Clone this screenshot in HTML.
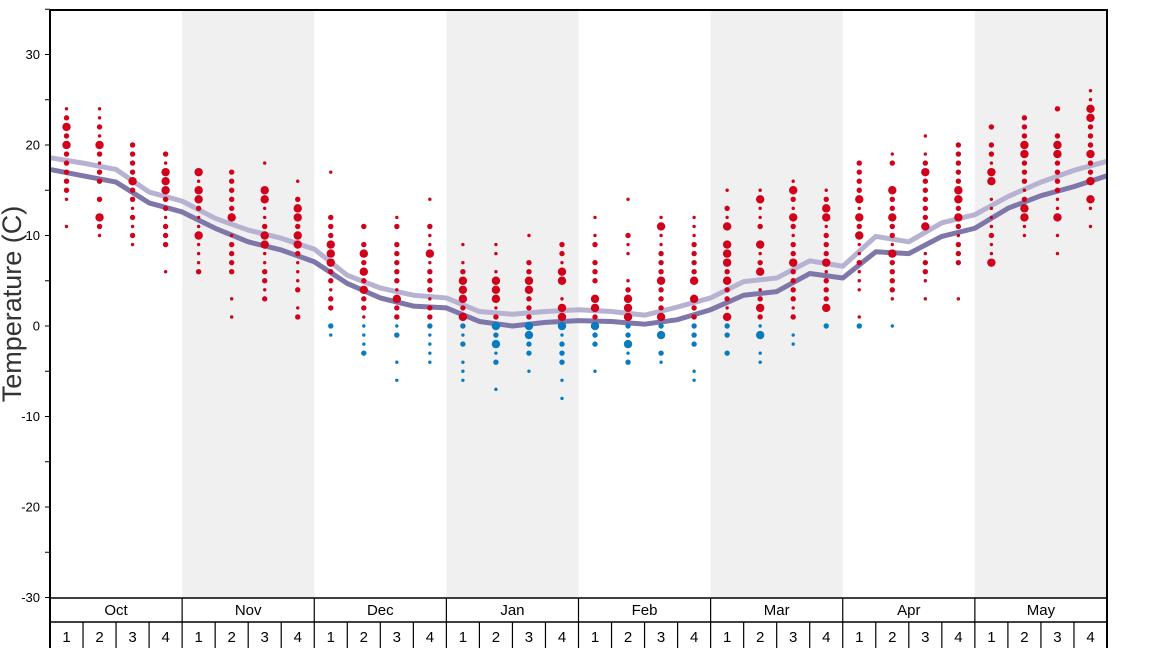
<!DOCTYPE html>
<html><head><meta charset="utf-8"><style>
html,body{margin:0;padding:0;background:#fff;}
svg{display:block;font-family:"Liberation Sans","DejaVu Sans",sans-serif;}
</style></head><body>
<svg id="chart" width="1168" height="648" viewBox="0 0 1168 648" xmlns="http://www.w3.org/2000/svg"></svg>
<script>
const months = ["Oct","Nov","Dec","Jan","Feb","Mar","Apr","May"];
const weekLabels = ["1","2","3","4"];
const yTicks = [30,20,10,0,-10,-20,-30];
const lightLine = [18.6,18.0,17.3,14.8,13.8,11.9,10.6,9.7,8.5,5.6,4.2,3.4,3.1,1.6,1.3,1.6,1.8,1.6,1.2,2.1,3.1,4.9,5.3,7.2,6.6,9.9,9.3,11.4,12.3,14.3,15.9,17.2,18.2];
const darkLine = [17.3,16.6,15.9,13.6,12.6,10.8,9.3,8.4,7.1,4.7,3.1,2.2,2.0,0.5,0.0,0.4,0.6,0.5,0.2,0.7,1.8,3.4,3.8,5.8,5.3,8.2,8.0,9.9,10.8,13.0,14.4,15.4,16.6];
// per week: "temp:size" (size 1 small, 2 medium, 3 large)
const weekDots = [
"24:1 23:2 22:3 21:2 20:3 19:2 18:2 17:2 16:2 15:2 14:1 11:1",
"24:1 23:1 22:2 21:1 20:3 19:2 18:1 17:2 16:2 14:2 12:3 11:2 10:1",
"20:2 19:2 18:2 17:2 16:3 15:2 14:2 13:1 12:2 11:1 10:2 9:1",
"19:2 18:1 17:3 16:3 15:3 14:2 13:2 12:1 11:2 10:2 9:2 6:1",
"17:3 16:1 15:3 14:3 13:2 12:1 11:1 10:3 9:1 8:1 7:1 6:2",
"17:2 16:2 15:2 14:2 13:2 12:3 10:1 9:2 8:2 7:2 6:2 3:1 1:1",
"18:1 15:3 14:3 13:1 12:1 11:2 10:3 9:3 8:1 7:1 6:2 5:2 4:1 3:2",
"16:1 14:2 13:3 12:3 11:2 10:3 9:3 8:2 7:1 6:1 5:1 4:2 2:1 1:2",
"17:1 12:2 11:2 10:2 9:3 8:3 7:3 6:2 5:2 4:1 3:2 2:2 0:2 -1:1",
"11:2 9:2 8:3 7:2 6:3 5:2 4:3 3:2 2:2 1:1 0:1 -1:1 -2:1 -3:2",
"12:1 11:2 9:2 8:2 7:2 6:2 5:2 4:1 3:3 2:2 1:2 0:1 -1:2 -4:1 -6:1",
"14:1 11:2 10:1 9:1 8:3 7:1 6:2 5:2 4:2 3:1 2:2 1:2 0:2 -1:1 -2:1 -3:1 -4:1",
"9:1 7:1 6:2 5:3 4:3 3:3 2:2 1:3 0:2 -1:1 -2:2 -4:1 -5:1 -6:1",
"9:1 8:1 6:1 5:3 4:3 3:3 2:1 1:2 0:3 -1:2 -2:3 -3:1 -4:2 -7:1",
"10:1 7:2 6:2 5:3 4:3 3:2 2:2 1:2 0:3 -1:3 -2:2 -3:2 -5:1",
"9:2 8:2 7:1 6:3 5:3 3:1 2:3 1:3 0:3 -1:1 -2:2 -3:2 -4:2 -6:1 -8:1",
"12:1 10:1 9:2 7:2 6:2 5:2 3:3 2:3 1:2 0:3 -1:2 -2:2 -5:1",
"14:1 10:2 9:1 8:1 5:1 4:2 3:3 2:3 1:3 0:2 -1:2 -2:3 -3:1 -4:2",
"12:1 11:3 10:1 9:1 8:2 7:2 6:2 5:3 4:2 3:2 2:2 1:3 0:2 -1:3 -3:2 -4:1",
"12:1 11:1 10:1 9:2 8:2 7:2 6:2 5:3 3:3 2:2 1:2 0:2 -1:2 -2:2 -5:1 -6:1",
"15:1 13:2 12:1 11:3 9:3 8:3 7:3 6:2 5:3 4:2 3:2 2:1 1:3 0:2 -1:2 -3:2",
"15:1 14:3 13:1 12:1 11:2 9:3 8:1 7:2 6:3 4:1 3:2 2:3 1:2 0:1 -1:3 -3:1 -4:1",
"16:1 15:3 14:2 13:1 12:3 11:2 10:1 9:2 8:2 7:3 6:2 5:2 4:2 3:2 2:1 1:2 -1:1 -2:1",
"15:1 14:2 13:3 12:3 11:1 10:2 9:2 8:2 7:3 6:1 5:2 4:2 3:2 2:3 0:2",
"18:2 17:2 16:2 15:2 14:3 13:1 12:3 11:2 10:3 9:1 8:1 7:2 6:1 5:1 4:1 1:1 0:2",
"19:1 18:2 15:3 14:2 13:2 12:3 11:2 10:2 9:1 8:3 7:2 6:2 5:2 4:2 3:1 0:1",
"21:1 19:1 18:2 17:3 16:2 15:2 14:2 13:2 12:2 11:3 8:1 7:2 6:2 5:1 3:1",
"20:2 19:2 18:2 17:2 16:2 15:3 14:3 13:2 12:3 11:2 10:1 9:2 8:2 7:2 3:1",
"22:2 20:2 19:2 18:1 17:3 16:3 14:1 13:1 12:1 11:1 10:2 9:1 8:1 7:3",
"23:2 22:2 21:2 20:3 19:3 18:2 17:2 16:2 15:1 14:2 13:3 12:3 11:1 10:1",
"24:2 21:2 20:3 19:3 18:2 17:2 16:2 15:2 14:1 13:1 12:3 10:1 8:1",
"26:1 25:1 24:3 23:3 22:2 21:2 20:2 19:3 18:2 17:2 16:3 14:3 13:1 11:1"
];

const NS = "http://www.w3.org/2000/svg";
const svg = document.getElementById("chart");
const X0 = 50, X1 = 1107, YT = 10, YB = 598;
const weekW = (X1 - X0) / 32;
const y = t => 326 - 9.05 * t;
const xEdge = i => X0 + i * weekW;
const xWeek = i => X0 + (i + 0.5) * weekW;
function el(tag, attrs, parent) {
  const e = document.createElementNS(NS, tag);
  for (const k in attrs) e.setAttribute(k, attrs[k]);
  (parent || svg).appendChild(e);
  return e;
}
months.forEach((m, i) => {
  if (i % 2 === 1) {
    const r = el("rect", {x: xEdge(i*4), y: YT, width: weekW*4, height: YB-YT, fill: "#f0f0f0"});
    
    
  }
});
function drawLine(vals, color, name) {
  const p = el("polyline", {points: vals.map((v, i) => xEdge(i) + "," + y(v)).join(" "), fill: "none", stroke: color, "stroke-width": 5, "stroke-linejoin": "round"});
  
  
}
drawLine(lightLine, "#b7b2d1", "average-high-line");
drawLine(darkLine, "#7f76aa", "average-low-line");
const radii = [0, 1.7, 2.7, 4.2];
weekDots.forEach((s, w) => {
  s.split(" ").forEach(pair => {
    const [t, sz] = pair.split(":").map(Number);
    const c = el("circle", {cx: xWeek(w), cy: y(t), r: radii[sz], fill: t > 0 ? "#d0021b" : "#0a7bbf"});
    
    
  });
});
const fr = el("path", {d: `M${X0},${YT} H${X1} V648 M${X0},${YT} V648`, stroke: "#000", "stroke-width": 2, fill: "none"});


for (let t = -30; t <= 35; t += 5) {
  const tk = el("line", {x1: X0-5, x2: X0, y1: y(t), y2: y(t), stroke: "#000", "stroke-width": 1});
  
  
}
yTicks.forEach(t => {
  const tx = el("text", {x: 40, y: y(t) + 4.5, "text-anchor": "end", "font-size": 13, fill: "#000"});
  tx.textContent = t;
  
  
});
const yt = el("text", {x: 21, y: 304, "text-anchor": "middle", "font-size": 27, fill: "#333", transform: "rotate(-90 21 304)"});
yt.textContent = "Temperature (C)";


const bb = el("path", {d: `M${X0},${YB} H${X1} M${X0},622 H${X1}`, stroke: "#000", "stroke-width": 1.5});


months.forEach((m, i) => {
  const d = el("line", {x1: xEdge(i*4), x2: xEdge(i*4), y1: YB, y2: 648, stroke: "#000", "stroke-width": 1.2});
  
  
  const tx = el("text", {x: xEdge(i*4) + weekW*2, y: 615, "text-anchor": "middle", "font-size": 15, fill: "#000"});
  tx.textContent = m;
  
  
  weekLabels.forEach((wl, j) => {
    const w = i*4 + j;
    if (j > 0) {
      const wd = el("line", {x1: xEdge(w), x2: xEdge(w), y1: 622, y2: 648, stroke: "#000", "stroke-width": 1.2});
      
      
    }
    const wt = el("text", {x: xWeek(w), y: 642, "text-anchor": "middle", "font-size": 15, fill: "#000"});
    wt.textContent = wl;
    
    
  });
});
</script>
</body></html>
